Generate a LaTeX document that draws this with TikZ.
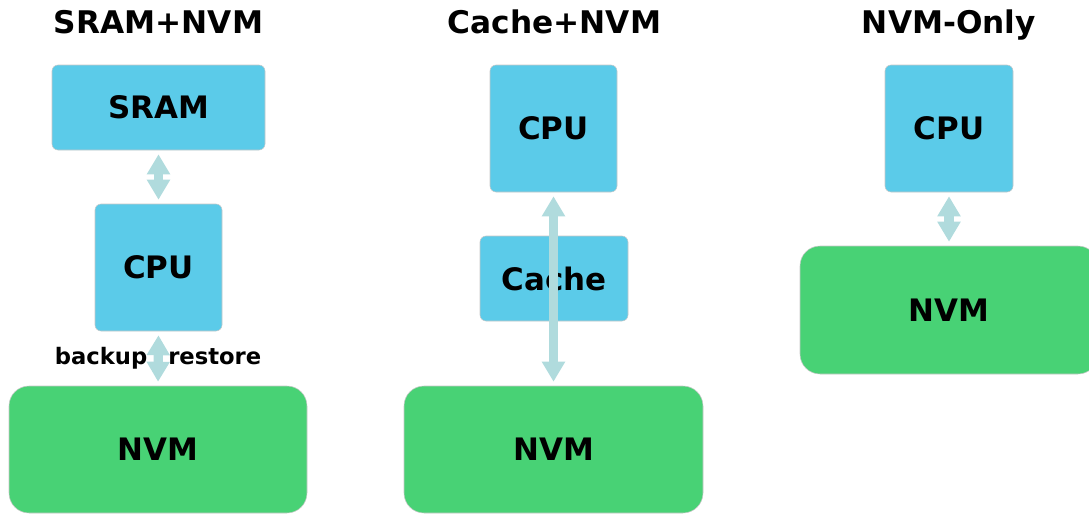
\documentclass[tikz,border=0pt]{standalone}
\usepackage{fontspec}
\setmainfont{DejaVu Sans}
\usetikzlibrary{arrows.meta}
\definecolor{boxblue}{HTML}{5BCBE9}
\definecolor{boxgreen}{HTML}{48D275}
\definecolor{arrowc}{HTML}{B0DBDD}
\definecolor{edgec}{HTML}{C8C8C8}
\tikzset{
  title/.style={font=\fontsize{23.4}{27}\selectfont\bfseries, anchor=base, inner sep=0},
  lbl/.style={font=\fontsize{17}{20}\selectfont\bfseries, inner sep=0},
  bluebox/.style={fill=boxblue, draw=edgec, line width=0.4pt, rounded corners=4.5pt, inner sep=0,
    font=\fontsize{23.2}{27}\selectfont\bfseries},
  greenbox/.style={fill=boxgreen, draw=edgec, line width=0.4pt, rounded corners=15pt, inner sep=0,
    font=\fontsize{23.2}{27}\selectfont\bfseries},
  darrow/.style={draw=arrowc, line width=7pt, shorten <=3pt, shorten >=3pt,
    {Triangle[width=16.5pt,length=15pt]}-{Triangle[width=16.5pt,length=15pt]}}
}
\begin{document}
\begin{tikzpicture}[x=0.75pt,y=-0.75pt]
\clip (0,0) rectangle (1089,514);
\useasboundingbox (0,0) rectangle (1089,514);
\fill[white] (0,0) rectangle (1089,514);
% column 1
\node[title] (t1) at (158.5,33) {SRAM+NVM};
\node[bluebox, minimum width=213*0.75pt, minimum height=85*0.75pt] (sram) at (158.5,107.5) {SRAM};
\node[bluebox, minimum width=127*0.75pt, minimum height=127*0.75pt] (cpu1) at (158.5,267.5) {CPU};
\node[greenbox, minimum width=298*0.75pt, minimum height=127*0.75pt] (nvm1) at (158,449.5) {NVM};
\draw[darrow] (sram.south) -- (cpu1.north);
\draw[darrow] (cpu1.south) -- (nvm1.north);
\node[lbl, anchor=base east] (bk) at (147.5,364) {backup};
\node[lbl, anchor=base west] (rs) at (168,364) {restore};
% column 2
\node[title] (t2) at (554.5,33) {Cache+NVM};
\node[bluebox, minimum width=127*0.75pt, minimum height=127*0.75pt] (cpu2) at (553.5,128.5) {CPU};
\node[bluebox, minimum width=148*0.75pt, minimum height=85*0.75pt] (cache) at (554,278.5) {Cache};
\node[greenbox, minimum width=299*0.75pt, minimum height=127*0.75pt] (nvm2) at (553.5,449.5) {NVM};
\draw[darrow] (cpu2.south) -- (nvm2.north);
% column 3
\node[title] (t3) at (949,33) {NVM-Only};
\node[bluebox, minimum width=128*0.75pt, minimum height=127*0.75pt] (cpu3) at (949,128.5) {CPU};
\node[greenbox, minimum width=298*0.75pt, minimum height=128*0.75pt] (nvm3) at (949,310) {NVM};
\draw[darrow] (cpu3.south) -- (nvm3.north);
\end{tikzpicture}
\end{document}
